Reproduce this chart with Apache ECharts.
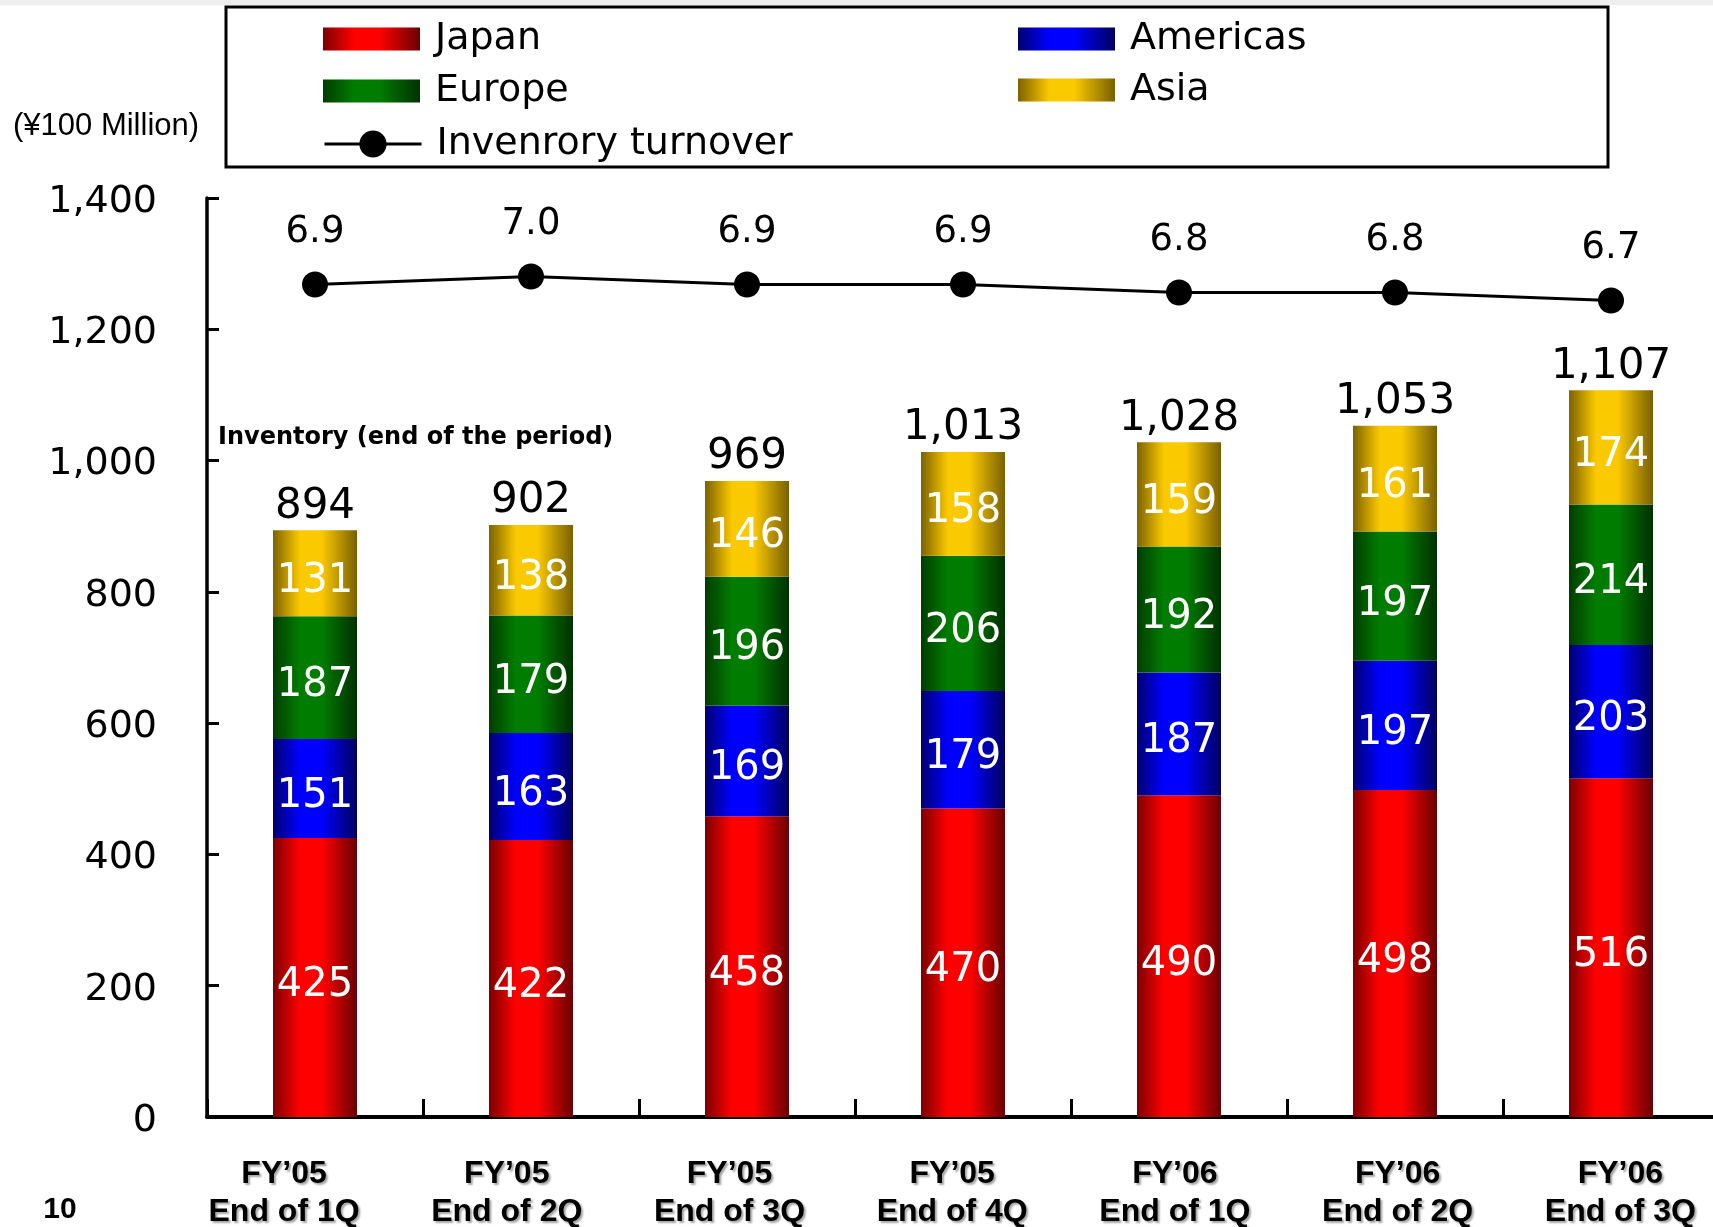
<!DOCTYPE html>
<html><head><meta charset="utf-8">
<script src="https://cdn.jsdelivr.net/npm/echarts@6/dist/echarts.min.js"></script>
<style>html,body{margin:0;padding:0;background:#fff}#c{width:1713px;height:1227px}</style>
</head><body><div id="c"></div>
<script>
const categories = ["FY\u201905\nEnd of 1Q","FY\u201905\nEnd of 2Q","FY\u201905\nEnd of 3Q","FY\u201905\nEnd of 4Q","FY\u201906\nEnd of 1Q","FY\u201906\nEnd of 2Q","FY\u201906\nEnd of 3Q"];
const japan    = [425, 422, 458, 470, 490, 498, 516];
const americas = [151, 163, 169, 179, 187, 197, 203];
const europe   = [187, 179, 196, 206, 192, 197, 214];
const asia     = [131, 138, 146, 158, 159, 161, 174];
const totals   = [894, 902, 969, 1013, 1028, 1053, 1107];
const turnover = [6.9, 7.0, 6.9, 6.9, 6.8, 6.8, 6.7];
const yMin = 0, yMax = 1400, yInterval = 200;

function grad(d1, b, d2) {
  return {type:'linear', x:0, y:0, x2:1, y2:0, colorStops:[
    {offset:0, color:d1},{offset:0.32, color:b},{offset:0.58, color:b},{offset:1, color:d2}]};
}
const DV = 'DejaVu Sans', LS = 'Liberation Sans';
const segLabel = {show:true, position:'inside', color:'#fff', fontSize:40, fontFamily:DV, offset:[0,8]};
function barSeries(name, data, color) {
  return {name, type:'bar', stack:'inv', xAxisIndex:0, yAxisIndex:0, barWidth:84, data,
    itemStyle:{color}, label:segLabel, silent:true};
}
const legendText = {fontFamily:DV, fontSize:38, color:'#000', padding:[0,0,0,10], lineHeight:40};
const legendBase = {orient:'vertical', itemWidth:97, itemHeight:23, itemGap:12, selectedMode:false, padding:0, textStyle:legendText};
const chart = echarts.init(document.getElementById('c'));
chart.setOption({
  backgroundColor:'#fff',
  animation:false,
  grid:[
    {left:207, top:198, width:1512, height:919, outerBoundsMode:'none', containLabel:false},
    {left:172.7, top:198, width:1559, height:919, outerBoundsMode:'none', containLabel:false}
  ],
  legend:[
    Object.assign({}, legendBase, {left:323, top:19, icon:'rect', data:['Japan','Europe']}),
    Object.assign({}, legendBase, {left:1018, top:19, icon:'rect', itemGap:11, data:['Americas','Asia']}),
    Object.assign({}, legendBase, {left:323, top:124, itemHeight:34,
      lineStyle:{width:3, color:'#000'}, data:['Invenrory turnover']})
  ],
  xAxis:[
    {type:'category', gridIndex:0, data:categories,
     axisLine:{show:true, lineStyle:{color:'#000', width:4}},
     axisTick:{show:true, inside:true, length:18, interval:0, lineStyle:{color:'#000', width:3}},
     axisLabel:{show:false}, splitLine:{show:false}},
    {type:'category', gridIndex:1, data:categories,
     axisLine:{show:false}, axisTick:{show:false},
     axisLabel:{interval:0, margin:38, fontFamily:LS, fontWeight:'bold', fontSize:32, lineHeight:38, color:'#000',
       textShadowColor:'rgba(0,0,0,0.35)', textShadowBlur:2, textShadowOffsetX:2, textShadowOffsetY:2}}
  ],
  yAxis:[
    {type:'value', gridIndex:0, min:yMin, max:yMax, interval:yInterval,
     axisLine:{show:true, lineStyle:{color:'#000', width:3.5}},
     axisTick:{show:true, inside:true, length:12, lineStyle:{color:'#000', width:3}},
     axisLabel:{margin:50, fontFamily:DV, fontSize:38, color:'#000', verticalAlign:'top', lineHeight:8,
       formatter:v => v.toLocaleString('en-US')},
     splitLine:{show:false}},
    {type:'value', gridIndex:0, min:-3.5, max:7.98, show:false, splitLine:{show:false}},
    {type:'value', gridIndex:1, show:false, splitLine:{show:false}}
  ],
  series:[
    barSeries('Japan', japan, grad('#7d0000','#ff0000','#6a0000')),
    barSeries('Americas', americas, grad('#000070','#0000ff','#000060')),
    barSeries('Europe', europe, grad('#003c00','#007d00','#003000')),
    barSeries('Asia', asia, grad('#7d6200','#fbc900','#786000')),
    {name:'Total', type:'scatter', xAxisIndex:0, yAxisIndex:0, data:totals, symbolSize:1, silent:true,
     itemStyle:{color:'rgba(0,0,0,0)', opacity:1},
     label:{show:true, position:'top', distance:2, color:'#000', opacity:1, fontSize:42, fontFamily:DV,
       formatter:p => p.value.toLocaleString('en-US')}},
    {name:'Invenrory turnover', type:'line', xAxisIndex:0, yAxisIndex:1, data:turnover,
     symbol:'circle', symbolSize:26, itemStyle:{color:'#000'}, lineStyle:{color:'#000', width:3}, silent:true,
     label:{show:true, position:'top', distance:21, color:'#000', fontSize:37, fontFamily:DV,
       formatter:p => p.value.toFixed(1)}}
  ],
  graphic:[
    {type:'rect', shape:{x:0, y:0, width:1713, height:5}, style:{fill:'#eeeeee'}, silent:true},
    {type:'rect', shape:{x:226, y:7, width:1382, height:160}, style:{fill:'none', stroke:'#000', lineWidth:3}, silent:true},
    {type:'text', x:13, y:126, style:{text:'(\u00a5100 Million)', font:'31px "Liberation Sans"', fill:'#000', textAlign:'left', textVerticalAlign:'middle'}},
    {type:'text', x:218, y:438, style:{text:'Inventory (end of the period)', font:'bold 24px "DejaVu Sans"', fill:'#000', textAlign:'left', textVerticalAlign:'middle'}},
    {type:'text', x:60, y:1210, style:{text:'10', font:'bold 30px "Liberation Sans"', fill:'#000', textAlign:'center', textVerticalAlign:'middle'}}
  ]
});
</script></body></html>
